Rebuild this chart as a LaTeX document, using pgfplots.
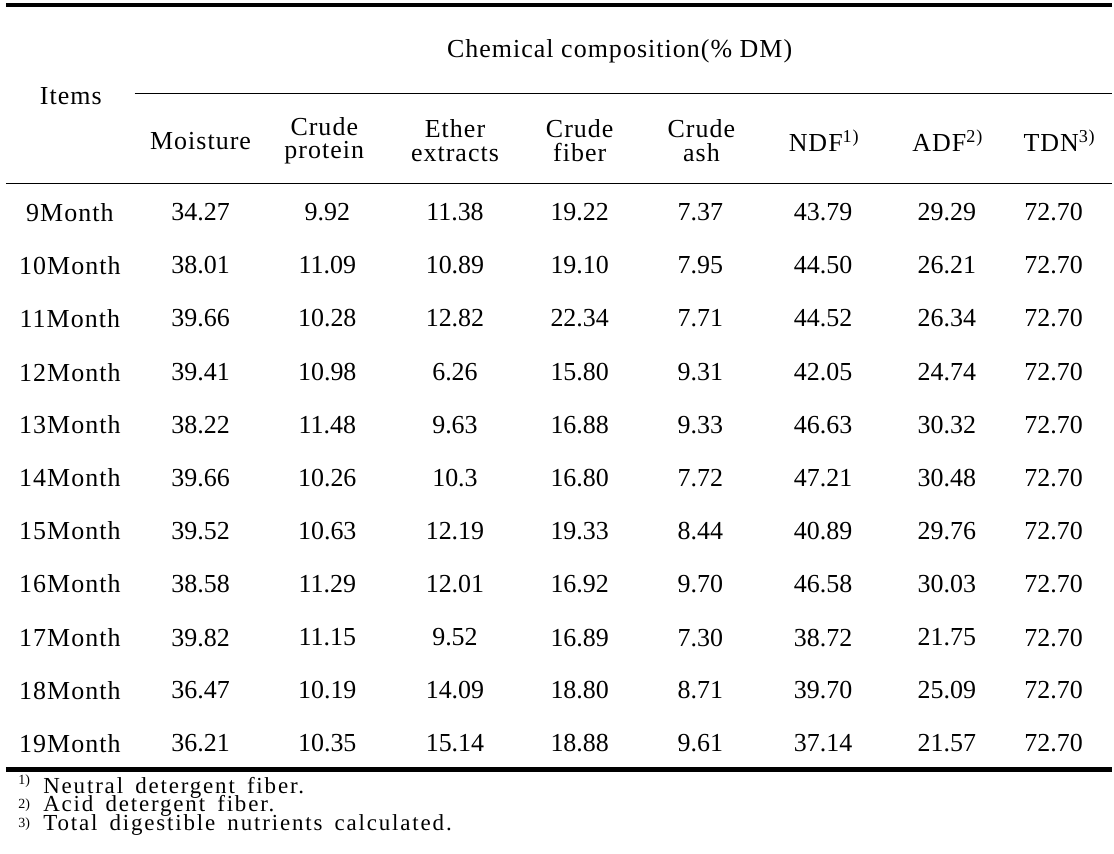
\documentclass[border=0pt]{standalone}
\usepackage{fontspec}
\setmainfont{Liberation Serif}
\newfontfamily\lsfont[LetterSpace=4]{Liberation Serif}
\newfontfamily\fnfont[LetterSpace=8,WordSpace=1.6]{Liberation Serif}
\usepackage{pgfplots}
\usepackage{pgfplotstable}
\pgfplotsset{compat=1.18}

% row position (px from top), then the values of each row
\pgfplotstableread{
y   item    moist cp    ee    cf    ca   ndf   adf   tdn
213 9Month  34.27 9.92  11.38 19.22 7.37 43.79 29.29 72.70
266 10Month 38.01 11.09 10.89 19.10 7.95 44.50 26.21 72.70
319 11Month 39.66 10.28 12.82 22.34 7.71 44.52 26.34 72.70
373 12Month 39.41 10.98 6.26  15.80 9.31 42.05 24.74 72.70
426 13Month 38.22 11.48 9.63  16.88 9.33 46.63 30.32 72.70
479 14Month 39.66 10.26 10.3  16.80 7.72 47.21 30.48 72.70
532 15Month 39.52 10.63 12.19 19.33 8.44 40.89 29.76 72.70
585 16Month 38.58 11.29 12.01 16.92 9.70 46.58 30.03 72.70
639 17Month 39.82 11.15 9.52  16.89 7.30 38.72 21.75 72.70
692 18Month 36.47 10.19 14.09 18.80 8.71 39.70 25.09 72.70
745 19Month 36.21 10.35 15.14 18.88 9.61 37.14 21.57 72.70
}\chem

\tikzset{
  hd/.style={anchor=center, inner sep=0pt, align=center,
    font=\lsfont\fontsize{13}{11.8}\selectfont},
  fnmark/.style={anchor=base west, inner sep=0pt, font=\fontsize{7}{8}\selectfont},
  fntext/.style={anchor=base west, inner sep=0pt, font=\fnfont\fontsize{11.5}{12}\selectfont},
}

\begin{document}
\begin{tikzpicture}
\begin{axis}[
  width=557pt, height=427.5pt, scale only axis,
  xmin=0, xmax=1114, ymin=0, ymax=855, y dir=reverse,
  hide axis, clip=false,
  cell/.style={black, only marks, mark=none,
    point meta=explicit symbolic, nodes near coords,
    nodes near coords style={anchor=center, inner sep=0pt, text=black,
      font=\fontsize{13}{15}\selectfont}},
  rule/.style={black, mark=none, line cap=butt},
]
\path (rel axis cs:0,0) rectangle (rel axis cs:1,1);

% rules
\addplot[rule, line width=2pt]   coordinates {(6,5.3) (1114,5.3)};
\addplot[rule, line width=0.6pt] coordinates {(135,94) (1114,94)};
\addplot[rule, line width=0.6pt] coordinates {(6,184) (1114,184)};
\addplot[rule, line width=2.5pt] coordinates {(6,771) (1114,771)};

% header
\node[hd] at (axis cs:621,51) {Chemical composition(\%\ DM)};
\node[hd] at (axis cs:71,96) {Items};
\node[hd] at (axis cs:201,141) {Moisture};
\node[hd] at (axis cs:325,141) {Crude\\protein};
\node[hd] at (axis cs:456,141) {Ether\\extracts};
\node[hd] at (axis cs:581,141) {Crude\\fiber};
\node[hd] at (axis cs:703,141) {Crude\\ash};
\node[hd] at (axis cs:826,141) {NDF\textsuperscript{1)}};
\node[hd] at (axis cs:950,141) {ADF\textsuperscript{2)}};
\node[hd] at (axis cs:1062,141) {TDN\textsuperscript{3)}};

% body
\addplot[cell, nodes near coords style={font=\lsfont\fontsize{13}{15}\selectfont}]
  table[x expr=70, y=y, meta=item] {\chem};
\addplot[cell] table[x expr=201,  y=y, meta=moist] {\chem};
\addplot[cell] table[x expr=328,  y=y, meta=cp]    {\chem};
\addplot[cell] table[x expr=456,  y=y, meta=ee]    {\chem};
\addplot[cell] table[x expr=581,  y=y, meta=cf]    {\chem};
\addplot[cell] table[x expr=702,  y=y, meta=ca]    {\chem};
\addplot[cell] table[x expr=825,  y=y, meta=ndf]   {\chem};
\addplot[cell] table[x expr=949,  y=y, meta=adf]   {\chem};
\addplot[cell] table[x expr=1056, y=y, meta=tdn]   {\chem};

% footnotes
\node[fnmark] at (axis cs:18,786) {1)};
\node[fntext] at (axis cs:43,795) {Neutral detergent fiber.};
\node[fnmark] at (axis cs:18,810) {2)};
\node[fntext] at (axis cs:43,813) {Acid detergent fiber.};
\node[fnmark] at (axis cs:18,829) {3)};
\node[fntext] at (axis cs:43,832) {Total digestible nutrients calculated.};
\end{axis}
\end{tikzpicture}
\end{document}
